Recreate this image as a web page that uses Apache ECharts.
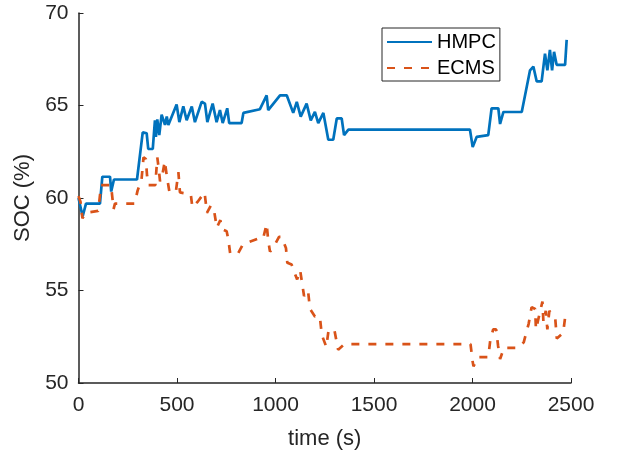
<!DOCTYPE html>
<html>
<head>
<meta charset="utf-8">
<script src="https://cdn.jsdelivr.net/npm/echarts@6/dist/echarts.min.js"></script>
<style>
  html, body { margin: 0; padding: 0; background: #fff; }
  #chart { width: 617px; height: 456px; }
</style>
</head>
<body>
<div id="chart"></div>
<script>
// HMPC trace (time in s, SOC in %)
const hmpcTime = [0, 8, 21, 38, 109, 121, 160, 166, 180, 297, 326, 346, 354, 377, 388,
  393, 400, 410, 422, 439, 448, 456, 498, 512, 532, 549, 575, 591, 625, 642,
  654, 681, 701, 718, 732, 755, 765, 828, 837, 921, 955, 963, 1023, 1057, 1090,
  1108, 1128, 1158, 1179, 1200, 1217, 1243, 1268, 1293, 1311, 1336, 1348, 1370, 1987, 2001,
  2021, 2080, 2097, 2131, 2140, 2157, 2250, 2292, 2309, 2326, 2351, 2368, 2380, 2393, 2404,
  2414, 2427, 2470, 2478]
const hmpcSoc = [60.0, 60.1, 59.0, 59.7, 59.7, 61.15, 61.15, 60.35, 61.0, 61.0, 63.55, 63.5, 62.65, 62.65, 64.2,
  63.3, 64.25, 63.4, 64.5, 63.95, 64.4, 63.95, 65.05, 64.1, 64.95, 64.2, 64.95, 64.1, 65.2, 65.1,
  64.1, 65.1, 64.1, 64.75, 64.05, 64.85, 64.05, 64.05, 64.6, 64.8, 65.55, 64.75, 65.55, 65.55, 64.6,
  65.2, 64.4, 65.1, 64.2, 64.65, 64.05, 64.6, 63.15, 63.15, 64.3, 64.3, 63.4, 63.7, 63.7, 62.75,
  63.3, 63.4, 64.85, 64.85, 64.0, 64.65, 64.65, 66.9, 67.1, 66.3, 66.3, 67.8, 66.9, 68.0, 66.9,
  67.9, 67.2, 67.2, 68.55]

// ECMS trace
const ecmsTime = [0, 10, 20, 35, 100, 115, 165, 178, 185, 285, 300, 320, 330, 342, 348,
  355, 390, 400, 407, 414, 425, 438, 448, 462, 495, 507, 515, 570, 578, 605,
  615, 640, 652, 672, 690, 702, 720, 730, 752, 760, 770, 810, 835, 860, 910,
  937, 955, 963, 972, 988, 1018, 1030, 1053, 1060, 1082, 1095, 1110, 1125, 1135, 1145,
  1165, 1175, 1200, 1225, 1235, 1258, 1270, 1300, 1318, 1350, 1990, 2000, 2005, 2030, 2080,
  2090, 2105, 2120, 2130, 2140, 2160, 2230, 2260, 2285, 2300, 2318, 2322, 2355, 2360, 2372,
  2380, 2390, 2420, 2428, 2460, 2472]
const ecmsSoc = [60.1, 59.8, 58.9, 59.2, 59.3, 60.7, 60.7, 59.4, 59.7, 59.7, 60.4, 61.0, 62.2, 62.1, 61.2,
  60.7, 60.7, 62.2, 61.6, 60.9, 61.2, 62.0, 61.2, 60.3, 60.4, 61.4, 60.3, 60.2, 59.5, 59.8,
  59.9, 60.3, 59.2, 59.6, 59.2, 58.4, 58.8, 58.3, 58.2, 57.8, 57.0, 57.0, 57.5, 57.6, 57.8,
  57.8, 58.6, 57.7, 57.1, 57.3, 57.9, 57.9, 57.3, 56.5, 56.4, 56.0, 55.6, 56.1, 55.4, 54.7,
  55.0, 54.0, 53.6, 53.6, 52.6, 51.95, 52.9, 52.8, 51.8, 52.1, 52.1, 51.2, 50.9, 51.4, 51.4,
  52.3, 52.9, 52.9, 52.0, 51.3, 51.9, 51.9, 52.2, 53.2, 54.1, 54.0, 52.9, 54.4, 53.3, 53.9,
  52.9, 53.9, 53.5, 52.4, 52.7, 53.7]

const xTicks = [0, 500, 1000, 1500, 2000, 2500]
const yTicks = [50, 55, 60, 65, 70]

const textColor = '#262626'
const fontFamily = '"Liberation Sans", Arial, sans-serif'

const zip = (xs, ys) => xs.map((x, i) => [x, ys[i]])

const chart = echarts.init(document.getElementById('chart'), null, { renderer: 'canvas' })
chart.setOption({
  animation: false,
  backgroundColor: '#fff',
  grid: {
    left: 78.5,
    right: 46,
    top: 13,
    bottom: 73
  },
  legend: {
    orient: 'vertical',
    left: 382,
    top: 28,
    padding: [4, 4, 3, 4],
    itemGap: 6,
    itemWidth: 45,
    itemHeight: 14,
    borderColor: textColor,
    borderWidth: 1,
    backgroundColor: '#fff',
    itemStyle: { opacity: 0 },
    textStyle: { color: '#000', fontSize: 20, fontFamily: fontFamily },
    data: ['HMPC', 'ECMS']
  },
  xAxis: {
    type: 'value',
    min: xTicks[0],
    max: xTicks[xTicks.length - 1],
    interval: 500,
    name: 'time (s)',
    nameLocation: 'middle',
    nameGap: 45,
    nameTextStyle: { color: textColor, fontSize: 22, fontFamily: fontFamily },
    axisLine: { lineStyle: { color: textColor, width: 1.5 } },
    axisTick: { inside: true, length: 5, lineStyle: { color: textColor } },
    axisLabel: {
      color: textColor, fontSize: 21, fontFamily: fontFamily, margin: 12,
      formatter: v => String(v)
    },
    splitLine: { show: false }
  },
  yAxis: {
    type: 'value',
    min: yTicks[0],
    max: yTicks[yTicks.length - 1],
    interval: 5,
    name: 'SOC (%)',
    nameLocation: 'middle',
    nameGap: 38,
    nameTextStyle: { color: textColor, fontSize: 22, fontFamily: fontFamily },
    axisLine: { show: true, lineStyle: { color: textColor, width: 1.5 } },
    axisTick: { show: true, inside: true, length: 5, lineStyle: { color: textColor } },
    axisLabel: {
      color: textColor, fontSize: 21, fontFamily: fontFamily, margin: 10,
      formatter: v => String(v)
    },
    splitLine: { show: false }
  },
  series: [
    {
      name: 'HMPC',
      type: 'line',
      symbol: 'none',
      color: '#0072BD',
      lineStyle: { width: 2.7, color: '#0072BD' },
      data: zip(hmpcTime, hmpcSoc)
    },
    {
      name: 'ECMS',
      type: 'line',
      symbol: 'none',
      color: '#D95319',
      lineStyle: { width: 2.7, color: '#D95319', type: [8, 9] },
      data: zip(ecmsTime, ecmsSoc)
    }
  ]
})
</script>
</body>
</html>
